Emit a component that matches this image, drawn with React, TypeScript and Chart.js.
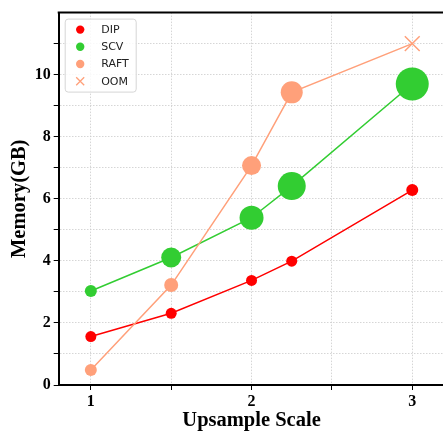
import React, { useEffect, useRef } from "react";
import { Chart, registerables } from "chart.js";

Chart.register(...registerables);

// ---- data ----
const dipScale = [1, 1.5, 2, 2.25, 3];
const dipMemory = [1.56, 2.31, 3.37, 3.99, 6.28];
const dipSizes = [5.5, 5.5, 5.5, 5.5, 6];

const scvScale = [1, 1.5, 2, 2.25, 3];
const scvMemory = [3.03, 4.11, 5.39, 6.41, 9.7];
const scvSizes = [6, 10, 12, 14, 16.5];

const raftScale = [1, 1.5, 2, 2.25, 3];
const raftMemory = [0.48, 3.22, 7.07, 9.43, 11];
const raftSizes = [6, 7, 9.5, 11, 0];

const oomScale = [3];
const oomMemory = [11];

const xTickValues = [1, 1.5, 2, 2.5, 3];
const xTickLabels = ["1", "", "2", "", "3"];
const yTickValues = [0, 1, 2, 3, 4, 5, 6, 7, 8, 9, 10, 11];
const yTickLabels = ["0", "", "2", "", "4", "", "6", "", "8", "", "10", ""];

const RED = "#ff0000";
const GREEN = "#32cd32";
const SALMON = "#ffa07a";

const toPoints = (xs: number[], ys: number[]) => xs.map((x, i) => ({ x, y: ys[i] }));

const serifBold = (size: number) => ({ family: "'Liberation Serif', 'Times New Roman', serif", weight: "bold" as const, size });

const framePlugin = {
  id: "frame",
  afterDraw(chart: any) {
    const { ctx, chartArea } = chart;
    ctx.save();
    ctx.strokeStyle = "#000";
    ctx.lineWidth = 2;
    ctx.beginPath();
    ctx.moveTo(chartArea.left - 1, chartArea.top);
    ctx.lineTo(chartArea.right + 6, chartArea.top);
    ctx.stroke();
    ctx.restore();
  },
};

const legendPlugin = {
  id: "boxLegend",
  afterDraw(chart: any) {
    const { ctx, chartArea } = chart;
    const x0 = chartArea.left + 6.5;
    const y0 = chartArea.top + 6.5;
    const w = 71;
    const h = 73;
    ctx.save();
    ctx.beginPath();
    const r = 3;
    ctx.moveTo(x0 + r, y0);
    ctx.lineTo(x0 + w - r, y0);
    ctx.quadraticCurveTo(x0 + w, y0, x0 + w, y0 + r);
    ctx.lineTo(x0 + w, y0 + h - r);
    ctx.quadraticCurveTo(x0 + w, y0 + h, x0 + w - r, y0 + h);
    ctx.lineTo(x0 + r, y0 + h);
    ctx.quadraticCurveTo(x0, y0 + h, x0, y0 + h - r);
    ctx.lineTo(x0, y0 + r);
    ctx.quadraticCurveTo(x0, y0, x0 + r, y0);
    ctx.closePath();
    ctx.fillStyle = "rgba(255,255,255,0.85)";
    ctx.fill();
    ctx.strokeStyle = "#d6d6d6";
    ctx.lineWidth = 1;
    ctx.stroke();

    const datasets = chart.data.datasets;
    ctx.font = "11px 'DejaVu Sans', sans-serif";
    ctx.textBaseline = "middle";
    ctx.textAlign = "left";
    datasets.forEach((ds: any, i: number) => {
      const cy = y0 + 10.5 + i * 17.2;
      const cx = x0 + 15;
      if (ds.pointStyle === "crossRot") {
        ctx.strokeStyle = ds.borderColor;
        ctx.lineWidth = 1.3;
        ctx.beginPath();
        ctx.moveTo(cx - 4, cy - 4);
        ctx.lineTo(cx + 4, cy + 4);
        ctx.moveTo(cx + 4, cy - 4);
        ctx.lineTo(cx - 4, cy + 4);
        ctx.stroke();
      } else {
        ctx.fillStyle = ds.backgroundColor;
        ctx.beginPath();
        ctx.arc(cx, cy, 4.2, 0, Math.PI * 2);
        ctx.fill();
      }
      ctx.fillStyle = "#222";
      ctx.fillText(ds.label, x0 + 36, cy + 0.5);
    });
    ctx.restore();
  },
};

export default function App() {
  const ref = useRef<HTMLCanvasElement | null>(null);

  useEffect(() => {
    if (!ref.current) return;
    const chart = new Chart(ref.current, {
      type: "scatter",
      data: {
        datasets: [
          {
            label: "DIP",
            data: toPoints(dipScale, dipMemory),
            showLine: true,
            borderColor: RED,
            backgroundColor: RED,
            borderWidth: 1.5,
            pointRadius: dipSizes,
            pointBorderWidth: 0,
            pointBackgroundColor: RED,
            order: 4,
          },
          {
            label: "SCV",
            data: toPoints(scvScale, scvMemory),
            showLine: true,
            borderColor: GREEN,
            backgroundColor: GREEN,
            borderWidth: 1.5,
            pointRadius: scvSizes,
            pointBorderWidth: 0,
            pointBackgroundColor: GREEN,
            order: 3,
          },
          {
            label: "RAFT",
            data: toPoints(raftScale, raftMemory),
            showLine: true,
            borderColor: SALMON,
            backgroundColor: SALMON,
            borderWidth: 1.5,
            pointRadius: raftSizes,
            pointBorderWidth: 0,
            pointBackgroundColor: SALMON,
            order: 2,
          },
          {
            label: "OOM",
            data: toPoints(oomScale, oomMemory),
            showLine: false,
            pointStyle: "crossRot",
            borderColor: SALMON,
            backgroundColor: SALMON,
            pointRadius: 10.5,
            pointBorderWidth: 1.5,
            order: 1,
          },
        ],
      } as any,
      options: {
        responsive: false,
        animation: false,
        devicePixelRatio: 1,
        layout: { autoPadding: false, padding: { top: 9.3, right: 5.6, bottom: 0, left: 0 } },
        plugins: { legend: { display: false }, tooltip: { enabled: false } },
        scales: {
          x: {
            type: "linear",
            min: 0.8,
            max: 3.2,
            afterBuildTicks: (s: any) => {
              s.ticks = xTickValues.map((v) => ({ value: v }));
            },
            afterFit: (s: any) => {
              s.height = 48;
            },
            ticks: {
              autoSkip: false,
              maxRotation: 0,
              padding: 2,
              color: "#000",
              font: serifBold(16),
              callback: (v: any) => {
                const i = xTickValues.indexOf(Number(v));
                return i >= 0 ? xTickLabels[i] : "";
              },
            },
            grid: { color: "#cccccc", lineWidth: 0.8, tickColor: "#000", tickLength: 5, tickWidth: 1 },
            border: { display: true, color: "#000", width: 2, dash: [1.5, 1.5] },
            title: { display: true, text: "Upsample Scale", color: "#000", font: serifBold(20.5), padding: 0 },
          },
          y: {
            type: "linear",
            min: 0,
            max: 12,
            afterBuildTicks: (s: any) => {
              s.ticks = yTickValues.map((v) => ({ value: v }));
            },
            afterFit: (s: any) => {
              s.width = 58.7;
            },
            ticks: {
              autoSkip: false,
              padding: 3,
              color: "#000",
              font: serifBold(16),
              callback: (v: any) => {
                const i = yTickValues.indexOf(Number(v));
                return i >= 0 ? yTickLabels[i] : "";
              },
            },
            grid: { color: "#cccccc", lineWidth: 0.8, tickColor: "#000", tickLength: 5, tickWidth: 1 },
            border: { display: true, color: "#000", width: 2, dash: [1.5, 1.5] },
            title: { display: true, text: "Memory(GB)", color: "#000", font: serifBold(20.5), padding: { top: 7, bottom: 0 } },
          },
        },
      } as any,
      plugins: [framePlugin, legendPlugin],
    });
    return () => chart.destroy();
  }, []);

  return (
    <div style={{ position: "fixed", left: 0, top: 0, width: 443, height: 433, overflow: "hidden" }}>
      <canvas ref={ref} width={450} height={433} style={{ display: "block" }} />
    </div>
  );
}
